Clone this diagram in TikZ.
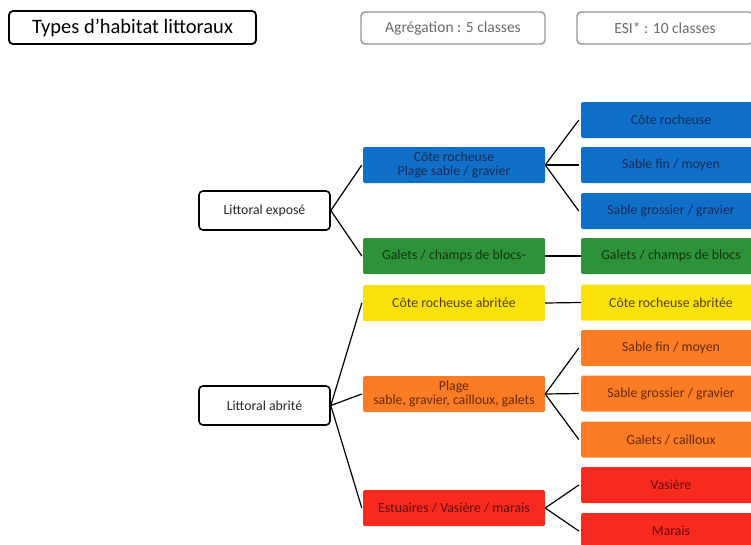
\documentclass[tikz,border=0pt]{standalone}
\usepackage{fontspec}
\setmainfont{Carlito}
\definecolor{bleu}{RGB}{16,112,200}
\definecolor{bleutxt}{RGB}{20,40,90}
\definecolor{vert}{RGB}{46,146,56}
\definecolor{verttxt}{RGB}{20,50,20}
\definecolor{jaune}{RGB}{252,226,10}
\definecolor{jaunetxt}{RGB}{80,65,10}
\definecolor{orangec}{RGB}{250,124,36}
\definecolor{orangectxt}{RGB}{100,40,10}
\definecolor{rouge}{RGB}{246,42,30}
\definecolor{rougetxt}{RGB}{100,10,10}
\definecolor{gris}{RGB}{150,150,150}
\tikzset{
  entete/.style={draw=gris,line width=1.4pt,rounded corners=4pt,minimum height=32pt,text=gris!70!black,font=\fontsize{15.5}{17}\selectfont},
  parent/.style={draw,line width=1.6pt,rounded corners=4pt,minimum width=131pt,minimum height=39pt,font=\fontsize{13.8}{15}\selectfont,text=black!85},
  classe/.style={rounded corners=1.5pt,minimum height=36pt,align=center,inner sep=0pt,font=\fontsize{13.8}{14}\selectfont},
  lien/.style={line width=1.2pt}
}
\begin{document}
\begin{tikzpicture}[x=1pt,y=-1pt]
  \useasboundingbox (0,0) rectangle (751,544);
  \clip (0,0) rectangle (751,544);
  % en-tetes
  \node[draw,line width=1.8pt,rounded corners=4pt,minimum width=247pt,minimum height=33pt,font=\fontsize{20.5}{22}\selectfont] (titre) at (132.5,27.5) {Types d’habitat littoraux};
  \node[entete,minimum width=184pt] (agreg) at (453,28) {Agrégation : 5 classes};
  \node[entete,minimum width=176pt] (esi) at (665,28) {ESI* : 10 classes};
  % littoral
  \node[parent] (expose) at (264.5,210.5) {Littoral exposé};
  \node[parent] (abrite) at (264.5,405.5) {Littoral abrité};
  % agregation
  \node[classe,minimum width=182pt,fill=bleu,text=bleutxt] (m1) at (454,165) {Côte rocheuse\\Plage sable / gravier};
  \node[classe,minimum width=182pt,fill=vert,text=verttxt] (m2) at (454,256) {Galets / champs de blocs-};
  \node[classe,minimum width=182pt,fill=jaune,text=jaunetxt] (m3) at (454,303) {Côte rocheuse abritée};
  \node[classe,minimum width=182pt,fill=orangec,text=orangectxt] (m4) at (454,394) {Plage\\sable, gravier, cailloux, galets};
  \node[classe,minimum width=182pt,fill=rouge,text=rougetxt] (m5) at (454,508) {Estuaires / Vasière / marais};
  % ESI
  \foreach \i/\y/\c/\t in {1/120/bleu/{Côte rocheuse},2/165/bleu/{Sable fin / moyen},3/211/bleu/{Sable grossier / gravier},
      4/256/vert/{Galets / champs de blocs},5/302.5/jaune/{Côte rocheuse abritée},6/348/orangec/{Sable fin / moyen},
      7/393.5/orangec/{Sable grossier / gravier},8/439.5/orangec/{Galets / cailloux},9/485/rouge/{Vasière},10/531/rouge/{Marais}} {
    \node[classe,minimum width=180pt,fill=\c,text=\c txt] (r\i) at (671,\y) {\t};
  }
  % liens
  \foreach \m in {1,2} \draw[lien] (expose.east) -- ([xshift=-1pt]m\m.west);
  \foreach \m in {3,4,5} \draw[lien] (abrite.east) -- ([xshift=-1pt]m\m.west);
  \foreach \r in {1,2,3} \draw[lien] (m1.east) -- ([xshift=-2pt]r\r.west);
  \draw[lien] (m2.east) -- (r4.west);
  \draw[lien] (m3.east) -- (r5.west);
  \foreach \r in {6,7,8} \draw[lien] (m4.east) -- ([xshift=-2pt]r\r.west);
  \foreach \r in {9,10} \draw[lien] (m5.east) -- ([xshift=-2pt]r\r.west);
\end{tikzpicture}
\end{document}
